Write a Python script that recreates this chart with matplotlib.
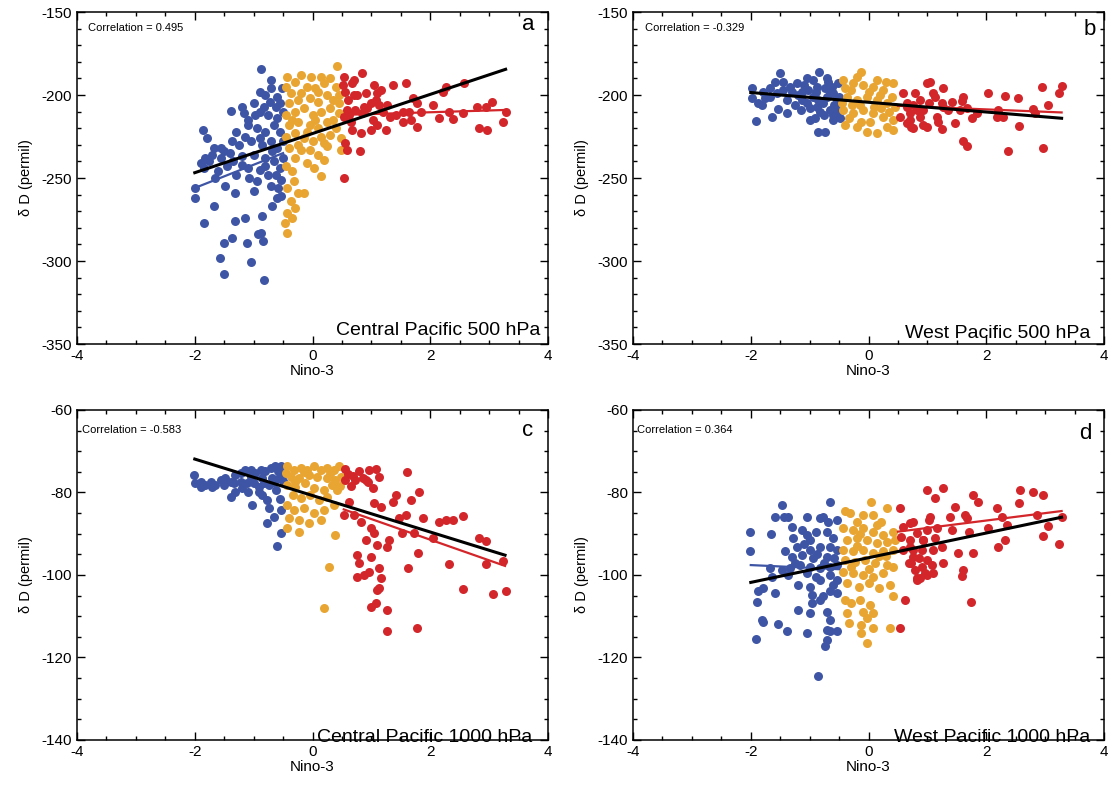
import numpy as np
import matplotlib
matplotlib.use('Agg')
import matplotlib.pyplot as plt
from matplotlib.ticker import MultipleLocator

plt.rcParams['font.family'] = ['Liberation Sans', 'DejaVu Sans']
plt.rcParams['axes.unicode_minus'] = False

# data: (Nino-3, dD) pairs
# a = Central Pacific 500 hPa
a_blue = [(-0.87, -184.5), (-0.71, -191), (-1.39, -209.5), (-1.86, -221), (-1.80, -226), (-1.17, -211),
          (-1.09, -215), (-1.68, -232), (-1.56, -232), (-1.37, -228), (-1.90, -241), (-1.85, -244),
          (-1.99, -256), (-1.99, -262), (-1.65, -250), (-1.48, -255), (-1.31, -259), (-1.68, -267),
          (-1.84, -277), (-1.31, -276), (-1.14, -274), (-0.86, -273), (-0.69, -267), (-0.88, -283),
          (-1.51, -289), (-1.37, -286), (-1.11, -289), (-0.92, -284), (-0.84, -288), (-1.58, -298),
          (-1.05, -300.6), (-1.50, -308), (-0.83, -311.6), (-0.54, -251), (-0.58, -256), (-0.54, -261),
          (-1.2, -207), (-1.0, -205), (-0.9, -198), (-0.8, -200), (-0.7, -196), (-0.6, -201),
          (-0.55, -205), (-0.9, -210), (-0.75, -212), (-0.6, -214), (-0.5, -210), (-1.1, -218),
          (-0.95, -220), (-0.8, -222), (-0.65, -218), (-0.55, -222), (-1.3, -222), (-1.25, -230),
          (-1.05, -228), (-0.85, -230), (-0.7, -228), (-0.6, -232), (-0.5, -228), (-1.4, -235),
          (-1.2, -237), (-1.0, -236), (-0.8, -238), (-0.65, -240), (-0.5, -238), (-1.55, -238),
          (-1.7, -236), (-1.75, -240), (-1.45, -243), (-1.1, -244), (-0.9, -245), (-0.75, -248),
          (-1.3, -248), (-1.6, -246), (-0.95, -252), (-0.7, -255), (-1.0, -258), (-0.6, -262),
          (-0.83, -207), (-0.52, -196), (-0.62, -207), (-0.72, -204), (-0.98, -212), (-1.15, -225),
          (-0.9, -226), (-0.68, -234), (-0.55, -244), (-1.2, -242), (-1.35, -240), (-1.5, -234),
          (-1.82, -238), (-0.8, -243), (-0.62, -248), (-1.08, -250)]
a_orange = [(0.41, -182.5), (-0.44, -189), (-0.02, -189), (0.15, -189), (-0.37, -199), (-0.2, -199),
            (0.14, -249), (-0.32, -252), (-0.24, -259), (-0.43, -256), (-0.15, -259), (-0.37, -264),
            (-0.30, -268), (-0.43, -271), (-0.35, -274), (-0.46, -277), (-0.43, -283), (0.48, -233),
            (0.48, -226), (0.25, -231), (0.10, -236), (0.19, -239), (-0.09, -241), (0.02, -244),
            (-0.2, -233), (0.0, -228), (-0.45, -195), (-0.3, -192), (-0.1, -195), (0.05, -196),
            (0.2, -193), (0.3, -190), (0.4, -195), (-0.4, -205), (-0.25, -203), (-0.05, -202),
            (0.1, -204), (0.25, -200), (0.35, -203), (0.45, -200), (-0.45, -212), (-0.3, -210),
            (-0.15, -208), (0.0, -212), (0.15, -210), (0.3, -208), (0.45, -211), (-0.4, -218),
            (-0.25, -216), (-0.05, -218), (0.1, -220), (0.25, -216), (0.4, -220), (-0.45, -225),
            (-0.3, -223), (-0.15, -226), (0.15, -225), (0.3, -224), (-0.4, -232), (-0.3, -238),
            (-0.45, -243), (-0.35, -246), (-0.2, -188), (0.1, -198), (-0.35, -215), (0.05, -215),
            (0.35, -215), (-0.1, -222), (0.2, -229), (-0.25, -230), (0.45, -205), (-0.05, -233)]
a_red = [(0.53, -250), (0.56, -229), (0.59, -233), (0.80, -234), (0.84, -186.5), (0.53, -189),
         (0.70, -191), (0.67, -193), (0.52, -194), (1.04, -194), (1.36, -194), (1.58, -193),
         (2.26, -195), (2.57, -193), (0.76, -200), (0.90, -199), (1.16, -197), (1.10, -199),
         (1.70, -202), (1.78, -205), (2.21, -198), (3.05, -204), (2.04, -206), (2.80, -207),
         (2.94, -207), (3.28, -210), (2.32, -210), (2.55, -211), (2.15, -214), (2.38, -214.6),
         (1.53, -210), (1.64, -210), (1.84, -210), (1.41, -212), (1.27, -206), (0.99, -205),
         (1.07, -203), (1.13, -206), (0.87, -207), (0.93, -208), (0.59, -209), (0.73, -209),
         (0.62, -212), (0.53, -213), (1.02, -215), (1.10, -218), (0.99, -221), (1.24, -221),
         (0.82, -223), (0.67, -221), (1.53, -216), (1.67, -215), (1.77, -219), (2.83, -220),
         (2.97, -221), (3.24, -216), (1.19, -210), (1.31, -213), (0.84, -211), (0.55, -198),
         (0.6, -203), (0.7, -200), (0.65, -216)]

# b = West Pacific 500 hPa
b_blue = [(-1.98, -196), (-1.98, -202), (-1.91, -215.7), (-1.64, -213), (-1.50, -186.5), (-1.39, -211),
          (-1.53, -208.6), (-1.81, -206), (-1.87, -205), (-1.79, -198), (-1.67, -196), (-1.59, -192),
          (-1.45, -192), (-1.33, -195), (-1.22, -193), (-1.05, -190), (-0.84, -186), (-0.71, -190),
          (-0.85, -222), (-0.74, -222), (-0.99, -215), (-0.91, -214), (-0.60, -215), (-0.48, -214),
          (-0.51, -193), (-1.13, -203), (-0.94, -201), (-0.77, -205), (-0.65, -199), (-0.54, -203),
          (-0.99, -208), (-0.82, -210), (-0.65, -209), (-0.54, -210), (-1.13, -198), (-1.02, -197),
          (-0.88, -195), (-0.74, -196), (-0.62, -195), (-1.25, -206), (-1.39, -203), (-1.67, -201),
          (-1.76, -202), (-1.56, -199), (-1.05, -205), (-0.85, -203), (-0.7, -201), (-0.58, -206),
          (-0.9, -198), (-1.2, -200), (-1.3, -198), (-0.75, -212), (-0.6, -212), (-1.45, -197),
          (-1.1, -194), (-0.95, -191), (-0.6, -199), (-0.5, -201), (-0.5, -207), (-1.15, -209),
          (-0.88, -207), (-0.68, -192)]
b_orange = [(-0.12, -186), (-0.43, -191), (-0.26, -193), (-0.09, -194), (0.08, -195), (0.25, -197),
            (0.42, -193), (-0.37, -201), (-0.20, -203), (-0.03, -201), (0.14, -203), (0.31, -205),
            (0.45, -207), (-0.43, -209), (-0.26, -211), (-0.09, -209), (0.08, -211), (0.25, -213),
            (0.42, -215), (-0.40, -218), (-0.20, -219), (-0.03, -222), (0.14, -223), (0.31, -219),
            (0.42, -221), (0.03, -216), (-0.34, -214), (-0.12, -216), (-0.3, -197), (0.0, -198),
            (0.2, -200), (0.35, -210), (-0.15, -206), (0.1, -207), (0.3, -192), (-0.45, -205),
            (-0.2, -189), (0.15, -191), (-0.4, -196), (0.4, -201), (-0.28, -206), (0.22, -208)]
b_red = [(0.99, -192.6), (1.04, -192), (1.27, -196), (0.79, -199), (1.10, -199), (1.13, -201),
         (2.03, -199), (2.32, -200.6), (2.54, -202), (2.95, -195), (3.28, -194.6), (3.24, -199),
         (3.05, -206), (2.80, -208.6), (2.83, -210.6), (1.61, -201), (1.58, -203.4), (1.41, -204),
         (1.24, -205), (1.27, -207), (0.87, -203), (1.02, -205), (0.65, -205), (0.76, -206),
         (1.67, -208), (1.55, -209), (1.84, -211), (1.76, -214), (1.35, -209), (1.47, -216.7),
         (2.20, -209), (2.18, -213), (2.29, -213.4), (1.16, -213), (1.18, -216), (0.99, -219),
         (0.76, -220), (0.65, -217), (1.24, -220.7), (1.61, -228), (1.67, -230.7), (2.37, -234),
         (2.96, -232), (2.56, -218.7), (0.87, -213), (0.93, -209), (0.70, -211), (0.59, -199),
         (0.53, -213), (0.70, -215), (0.82, -209), (0.65, -207), (0.93, -218), (0.73, -219)]

# c = Central Pacific 1000 hPa
c_blue = [(-2.02, -75.8), (-1.99, -77.8), (-1.90, -77.4), (-1.82, -78.2), (-1.73, -77.4), (-1.65, -78.2),
          (-1.56, -77.0), (-1.48, -76.6), (-1.39, -77.4), (-1.31, -75.8), (-1.22, -75.3), (-1.14, -74.5),
          (-1.05, -74.5), (-0.97, -75.3), (-0.88, -74.5), (-0.80, -74.9), (-0.71, -74.1), (-0.63, -73.7),
          (-0.54, -73.7), (-0.49, -75.3), (-0.57, -76.6), (-0.66, -77.4), (-0.74, -78.2), (-0.83, -77.8),
          (-0.91, -78.6), (-1.00, -77.8), (-1.11, -77.8), (-1.20, -79.0), (-1.31, -79.8), (-1.39, -81.0),
          (-1.02, -83.0), (-0.91, -79.8), (-0.77, -81.8), (-0.74, -83.8), (-0.66, -85.9), (-0.77, -87.5),
          (-0.54, -84.2), (-0.54, -89.9), (-0.60, -93.0), (-0.69, -76.6), (-0.85, -76.6), (-1.05, -76.2),
          (-1.22, -77.4), (-1.34, -77.8), (-1.51, -78.2), (-1.71, -78.6), (-1.90, -78.6), (-0.58, -74.8),
          (-0.5, -77.2), (-0.62, -79.5), (-1.1, -80.0), (-0.85, -80.5), (-0.55, -81.5)]
c_orange = [(-0.43, -73.7), (-0.31, -74.5), (-0.20, -74.1), (-0.09, -74.5), (0.02, -73.7), (0.14, -74.5),
            (0.25, -74.1), (0.36, -74.5), (0.45, -73.7), (-0.37, -76.2), (-0.23, -76.6), (-0.06, -75.8),
            (0.08, -76.2), (0.25, -76.6), (0.39, -77.0), (0.48, -76.2), (-0.43, -78.2), (-0.29, -78.6),
            (-0.12, -77.8), (0.02, -79.0), (0.19, -79.4), (0.33, -78.2), (0.42, -79.4), (-0.34, -80.6),
            (-0.20, -81.4), (-0.04, -80.6), (0.11, -81.8), (0.25, -81.0), (0.36, -83.0), (-0.43, -83.0),
            (-0.31, -84.2), (-0.15, -83.8), (0.02, -85.0), (0.19, -84.2), (-0.40, -86.3), (-0.23, -86.7),
            (-0.06, -87.5), (0.14, -86.7), (-0.43, -88.7), (-0.23, -89.5), (0.39, -90.3), (0.28, -98.0),
            (0.20, -108.0), (-0.45, -75.2), (-0.15, -75.0), (0.3, -75.4), (0.47, -78.5), (-0.3, -77.4)]
c_red = [(0.56, -74.4), (0.79, -74.9), (0.96, -74.5), (1.07, -74.3), (0.90, -77.0), (0.73, -77.0),
         (0.56, -77.0), (1.13, -76.2), (1.02, -79.0), (1.61, -75.1), (1.81, -79.8), (1.41, -80.6),
         (1.36, -82.2), (1.67, -81.8), (1.04, -82.5), (0.62, -82.2), (1.16, -83.6), (0.53, -85.5),
         (0.70, -85.5), (0.82, -87.1), (1.47, -86.3), (1.58, -85.5), (1.87, -86.3), (2.15, -87.1),
         (2.26, -86.7), (2.38, -86.7), (2.56, -85.6), (1.52, -89.9), (1.72, -89.9), (2.04, -91.1),
         (0.99, -88.7), (1.04, -89.9), (0.90, -91.4), (1.30, -91.5), (1.10, -92.7), (1.27, -93.1),
         (2.83, -91.1), (2.94, -91.7), (0.75, -95.1), (0.79, -97.2), (0.99, -95.7), (0.96, -99.2),
         (0.87, -100.0), (0.76, -100.6), (1.13, -98.4), (1.16, -100.8), (1.79, -94.6), (1.63, -98.2),
         (2.32, -97.4), (2.94, -97.4), (3.24, -96.5), (1.10, -103.6), (1.13, -103.2), (2.56, -103.5),
         (3.06, -104.6), (3.28, -103.8), (0.99, -107.7), (1.07, -106.9), (1.26, -108.5), (1.26, -113.7),
         (1.77, -112.8), (0.6, -75.5), (0.68, -76.0), (0.85, -76.5), (0.95, -77.5), (0.65, -78.5)]

# d = West Pacific 1000 hPa
d_blue = [(-2.02, -89.5), (-2.02, -94.1), (-1.66, -90.1), (-1.47, -83.0), (-1.59, -86.0), (-1.44, -86.0),
          (-1.36, -86.0), (-1.30, -88.4), (-1.13, -89.1), (-1.05, -86.0), (-1.05, -90.3), (-0.82, -86.3),
          (-0.77, -86.0), (-0.65, -82.4), (-0.68, -87.1), (-0.54, -86.7), (-0.71, -89.5), (-1.28, -91.1),
          (-0.99, -91.5), (-1.22, -93.1), (-0.99, -93.9), (-0.82, -93.1), (-0.65, -93.1), (-0.54, -93.9),
          (-1.42, -94.3), (-1.30, -95.6), (-1.13, -95.1), (-0.94, -96.0), (-0.71, -95.6), (-1.47, -98.8),
          (-1.67, -98.4), (-1.33, -98.4), (-1.16, -97.6), (-0.99, -98.0), (-0.82, -98.4), (-0.65, -98.0),
          (-0.54, -97.6), (-1.64, -100.4), (-1.36, -100.0), (-1.19, -102.4), (-0.99, -102.8), (-0.82, -101.2),
          (-0.65, -100.0), (-0.54, -101.2), (-1.79, -103.2), (-1.87, -104.0), (-1.90, -106.5), (-1.59, -104.4),
          (-0.96, -104.8), (-0.77, -105.2), (-0.65, -104.0), (-0.54, -104.4), (-0.96, -106.9), (-0.82, -106.1),
          (-1.19, -108.5), (-0.99, -109.3), (-0.71, -108.9), (-0.65, -110.9), (-1.81, -110.9), (-1.79, -111.3),
          (-1.53, -111.9), (-1.39, -113.5), (-1.04, -114.0), (-0.71, -113.3), (-0.65, -113.7), (-0.54, -113.5),
          (-1.91, -115.6), (-0.71, -115.8), (-0.74, -117.2), (-0.85, -124.5), (-1.1, -92.5), (-0.9, -89.5),
          (-0.6, -91.0), (-0.88, -95.0), (-0.58, -95.8), (-1.25, -97.0), (-0.75, -97.0), (-0.9, -100.5),
          (-0.6, -102.5), (-1.05, -99.5)]
d_orange = [(-0.40, -84.6), (-0.31, -84.9), (0.05, -82.2), (0.31, -83.8), (-0.09, -85.5), (0.08, -85.5),
            (-0.20, -87.1), (0.22, -87.1), (-0.43, -88.7), (-0.26, -89.1), (-0.09, -88.7), (0.08, -89.5),
            (0.25, -90.3), (0.42, -89.5), (-0.37, -91.5), (-0.20, -91.1), (-0.03, -91.5), (0.14, -92.3),
            (0.31, -91.9), (0.45, -91.5), (-0.43, -93.9), (-0.26, -94.3), (-0.09, -93.9), (0.08, -94.7),
            (0.25, -94.3), (0.42, -93.9), (-0.40, -96.4), (-0.23, -96.8), (-0.06, -96.4), (0.11, -97.2),
            (0.31, -97.6), (0.42, -98.0), (-0.43, -99.2), (-0.26, -99.6), (-0.09, -100.0), (0.08, -100.4),
            (0.25, -99.6), (-0.37, -102.0), (-0.17, -102.8), (0.00, -102.0), (0.17, -103.2), (0.37, -102.4),
            (-0.40, -106.1), (-0.29, -106.9), (-0.14, -106.1), (0.03, -107.3), (0.42, -105.2), (-0.37, -109.3),
            (-0.09, -108.9), (0.08, -109.3), (-0.03, -110.5), (-0.34, -111.7), (-0.12, -112.1), (0.08, -112.9),
            (0.37, -112.9), (-0.12, -114.1), (-0.03, -116.6), (-0.15, -90.0), (0.18, -95.5), (-0.3, -98.0),
            (0.0, -98.5), (0.3, -95.5), (-0.2, -93.0), (0.15, -88.0)]
d_red = [(0.53, -83.8), (0.99, -79.4), (0.56, -90.7), (0.71, -87.5), (0.82, -89.9), (0.93, -91.5),
         (0.59, -93.9), (0.73, -97.2), (0.90, -98.0), (0.82, -100.8), (0.96, -99.6), (0.62, -106.1),
         (0.53, -112.9), (1.04, -85.9), (0.76, -93.9), (1.27, -79.0), (1.13, -81.4), (1.77, -80.6),
         (1.86, -82.2), (2.57, -79.4), (2.80, -79.8), (2.96, -80.6), (2.56, -82.5), (0.76, -87.1),
         (1.02, -86.7), (1.38, -85.9), (1.47, -83.4), (1.64, -85.5), (1.67, -86.3), (2.18, -83.8),
         (2.26, -86.0), (2.86, -85.5), (3.28, -86.0), (3.05, -88.1), (0.59, -88.3), (0.99, -89.1),
         (1.16, -88.7), (1.41, -89.1), (1.70, -89.7), (2.03, -88.7), (2.35, -87.9), (2.96, -90.5),
         (3.24, -92.6), (0.70, -91.5), (0.93, -91.5), (1.13, -91.1), (1.24, -93.1), (1.10, -93.9),
         (0.90, -93.9), (0.70, -93.1), (2.32, -91.4), (2.20, -93.3), (1.52, -94.7), (1.77, -94.6),
         (0.76, -95.6), (0.68, -97.2), (0.85, -96.0), (0.99, -96.4), (1.27, -97.2), (1.07, -97.6),
         (0.79, -98.8), (0.87, -100.8), (0.99, -100.0), (1.10, -99.6), (0.82, -101.2), (1.61, -98.8),
         (1.58, -100.2), (1.74, -106.6)]

# regression lines as drawn in the figure: (x0, x1), (y0, y1)
a_fit_black = ([-2.0, 3.28], [-246.8, -184.5])
a_fit_blue = ([-2.0, -0.5], [-256.0, -235.0])
a_fit_red = ([0.5, 3.28], [-212.0, -209.0])
b_fit_black = ([-2.0, 3.28], [-198.5, -214.0])
b_fit_red = ([0.5, 3.28], [-206.5, -210.5])
c_fit_black = ([-2.0, 3.27], [-71.9, -95.2])
c_fit_red = ([0.53, 3.27], [-84.1, -97.8])
d_fit_black = ([-2.0, 3.28], [-101.8, -86.0])
d_fit_red = ([0.5, 3.28], [-89.5, -84.5])
d_fit_blue = ([-2.0, -0.5], [-97.6, -98.6])

correlations = ['0.495', '-0.329', '-0.583', '0.364']
panel_letters = ['a', 'b', 'c', 'd']
panel_names = ['Central Pacific 500 hPa', 'West Pacific 500 hPa',
               'Central Pacific 1000 hPa', 'West Pacific 1000 hPa']

BLUE = '#3E55A5'
ORANGE = '#E9A531'
RED = '#D3262B'

fig = plt.figure(figsize=(11.1, 7.91), dpi=100)

positions = [[0.0694, 0.5651, 0.4243, 0.4197], [0.5703, 0.5651, 0.4243, 0.4197],
             [0.0694, 0.0645, 0.4243, 0.4172], [0.5703, 0.0645, 0.4243, 0.4172]]

panels = [
    (a_blue, a_orange, a_red, [(a_fit_blue, BLUE), (a_fit_red, RED), (a_fit_black, 'black')]),
    (b_blue, b_orange, b_red, [(b_fit_red, RED), (b_fit_black, 'black')]),
    (c_blue, c_orange, c_red, [(c_fit_red, RED), (c_fit_black, 'black')]),
    (d_blue, d_orange, d_red, [(d_fit_blue, BLUE), (d_fit_red, RED), (d_fit_black, 'black')]),
]

# text placement (axes fraction) for each panel
corr_pos = [(0.023, 0.952), (0.025, 0.952), (0.011, 0.939), (0.008, 0.939)]
letter_pos = [(0.957, 0.961), (0.970, 0.946), (0.957, 0.939), (0.960, 0.930)]
name_pos = [(0.983, 0.042), (0.970, 0.033), (0.966, 0.009), (0.970, 0.009)]

for i, (blue, orange, red, fits) in enumerate(panels):
    ax = fig.add_axes(positions[i])
    for pts, col in [(blue, BLUE), (orange, ORANGE), (red, RED)]:
        p = np.array(pts)
        ax.scatter(p[:, 0], p[:, 1], s=42, color=col, linewidths=0, zorder=2)
    for (fx, fy), col in fits:
        ax.plot(fx, fy, color=col, lw=2.2 if col == 'black' else 1.6, zorder=3)

    ax.set_xlim(-4, 4)
    ax.xaxis.set_major_locator(MultipleLocator(2))
    ax.xaxis.set_minor_locator(MultipleLocator(0.5))
    if i < 2:
        ax.set_ylim(-350, -150)
        ax.yaxis.set_major_locator(MultipleLocator(50))
        ax.yaxis.set_minor_locator(MultipleLocator(10))
    else:
        ax.set_ylim(-140, -60)
        ax.yaxis.set_major_locator(MultipleLocator(20))
        ax.yaxis.set_minor_locator(MultipleLocator(5))

    ax.tick_params(which='both', direction='in', top=True, right=True, labelsize=11, width=1)
    ax.tick_params(which='major', length=6)
    ax.tick_params(which='minor', length=3)
    for sp in ax.spines.values():
        sp.set_linewidth(1.1)

    ax.set_xlabel('Nino-3', fontsize=11, labelpad=1)
    ax.set_ylabel('δ D (permil)', fontsize=10.5, labelpad=6)

    ax.text(*corr_pos[i], 'Correlation = ' + correlations[i], transform=ax.transAxes,
            fontsize=8, ha='left', va='center')
    ax.text(*letter_pos[i], panel_letters[i], transform=ax.transAxes,
            fontsize=16, ha='center', va='center')
    ax.text(*name_pos[i], panel_names[i], transform=ax.transAxes,
            fontsize=14, ha='right', va='center')

fig.savefig('out.png', dpi=100)
